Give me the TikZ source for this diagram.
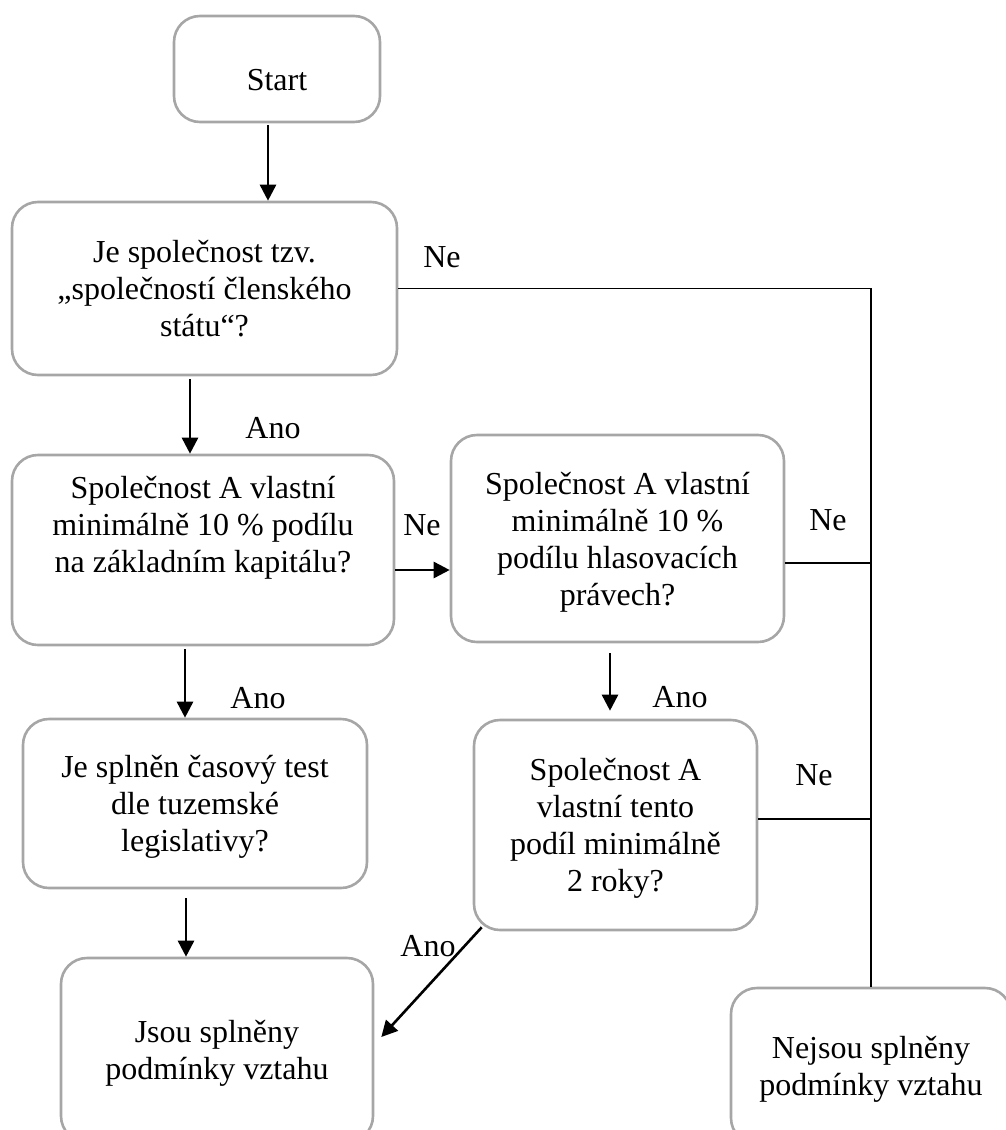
\documentclass[tikz,border=0pt]{standalone}
\usepackage{fontspec}
\setmainfont{Liberation Serif}
\usetikzlibrary{arrows.meta,positioning}
\definecolor{cframe}{HTML}{A6A6A6}
\definecolor{cink}{HTML}{000000}
\tikzset{>={Triangle[length=16pt,width=16pt]},
  qbox/.style={draw=cframe,line width=2.6pt,rounded corners=26pt,align=center,inner sep=0pt,text depth=0pt},
  flow/.style={->,draw=cink,line width=2.6pt},
  wire/.style={draw=cink,line width=1.5pt},
  ans/.style={inner sep=0pt,text=cink},
}

\begin{document}
\begin{tikzpicture}[x=1pt,y=-1pt,font=\fontsize{32}{37}\selectfont]
  \useasboundingbox (0,0) rectangle (1005,1130);
  % decision boxes of the flow chart
  \node[qbox,minimum width=206pt,minimum height=106pt,text height=42pt] (start) at (277,69) {Start};
  \node[qbox,minimum width=385pt,minimum height=173pt] (q1) at (204.5,288.5) {Je společnost tzv.\\„společností členského\\státu“?};
  \node[qbox,minimum width=382pt,minimum height=190pt,text depth=51pt] (q2) at (203,550) {Společnost A vlastní\\minimálně 10 \% podílu\\na základním kapitálu?};
  \node[qbox,minimum width=333pt,minimum height=207pt] (q3) at (617.5,538.5) {Společnost A vlastní\\minimálně 10 \%\\podílu hlasovacích\\právech?};
  \node[qbox,minimum width=344pt,minimum height=169pt] (q4) at (195,803.5) {Je splněn časový test\\dle tuzemské\\legislativy?};
  \node[qbox,minimum width=283pt,minimum height=210pt] (q5) at (615.5,825) {Společnost A\\vlastní tento\\podíl minimálně\\2 roky?};
  \node[qbox,minimum width=312pt,minimum height=184pt] (yes) at (217,1050) {Jsou splněny\\podmínky vztahu};
  \node[qbox,minimum width=280pt,minimum height=156pt] (no) at (871,1066) {Nejsou splněny\\podmínky vztahu};

  \draw[flow,shorten <=2pt] ([xshift=-9pt]start.south) -- ([xshift=-9pt]start.south |- q1.north);
  \draw[flow,shorten <=3pt] ([xshift=-14.5pt]q1.south) -- ([xshift=-14.5pt]q1.south |- q2.north);
  \draw[flow] ([yshift=-20pt]q2.east) -- ([yshift=-20pt]q2.east -| q3.west);
  \draw[flow,shorten <=3pt] ([xshift=-18pt]q2.south) -- ([xshift=-18pt]q2.south |- q4.north);
  \draw[flow,shorten <=10pt,shorten >=8pt] ([xshift=-7.5pt]q3.south) -- ([xshift=-7.5pt]q3.south |- q5.north);
  \draw[flow,shorten <=9pt] ([xshift=-9pt]q4.south) -- ([xshift=-9pt]q4.south |- yes.north);
  \draw[flow] ([xshift=9pt,yshift=4pt]q5.south west) -- ([xshift=7pt,yshift=13pt]yes.east);

  \draw[wire] (q1.east) -- (q1.east -| no.north) -- (no.north);
  \draw[wire] ([yshift=-24.5pt]q3.east) -- ([yshift=-24.5pt]q3.east -| no.north);
  \draw[wire] ([yshift=6pt]q5.east) -- ([yshift=6pt]q5.east -| no.north);

  \node[ans] (neA) at (442,257) {Ne};
  \node[ans] (neB) at (422,525) {Ne};
  \node[ans] (neC) at (828,520) {Ne};
  \node[ans] (neD) at (814,775) {Ne};
  \node[ans] (anoA) at (273,428) {Ano};
  \node[ans] (anoB) at (258,698) {Ano};
  \node[ans] (anoC) at (680,697) {Ano};
  \node[ans] (anoD) at (428,946) {Ano};
\end{tikzpicture}
\end{document}
